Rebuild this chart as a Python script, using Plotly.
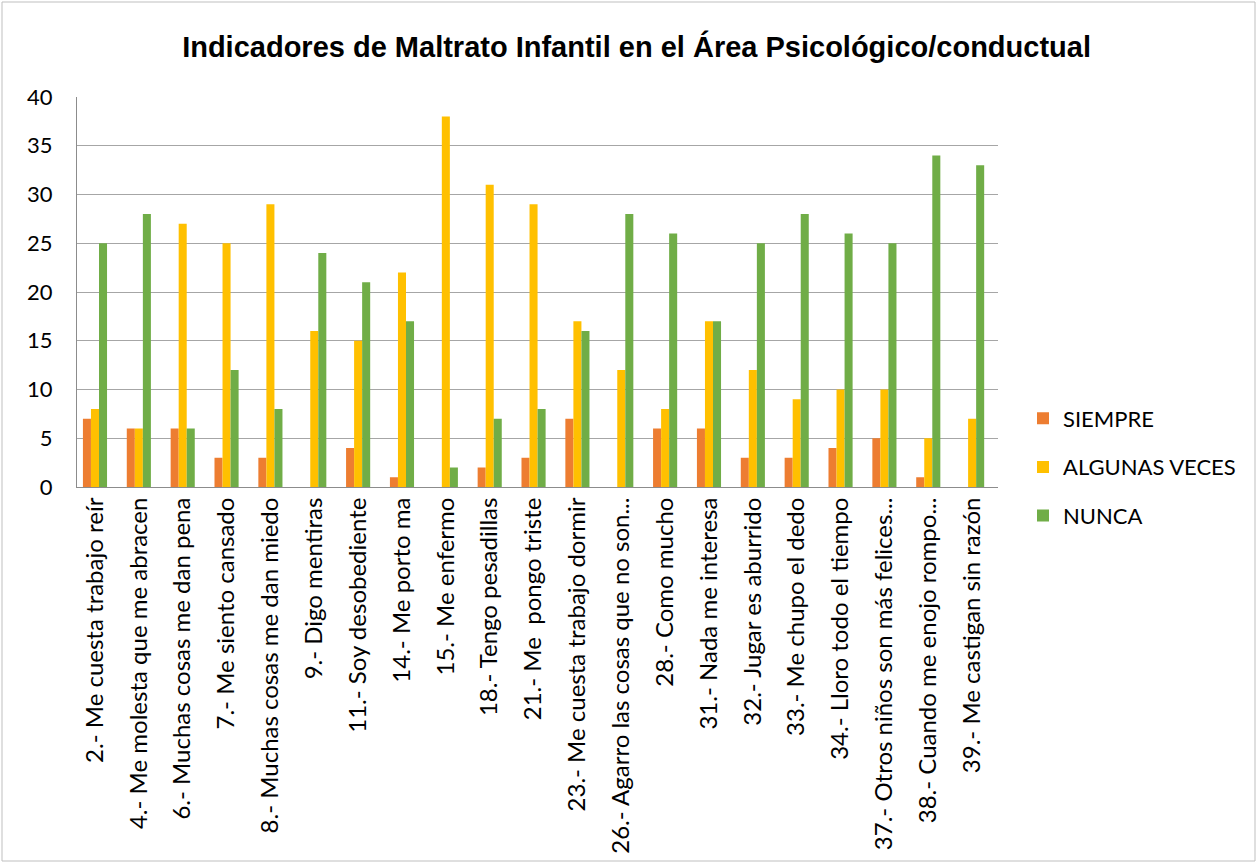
import plotly.graph_objects as go

categories = [
    "2.- Me cuesta trabajo reír",
    "4.- Me molesta que me abracen",
    "6.- Muchas cosas me dan pena",
    "7.- Me siento cansado",
    "8.- Muchas cosas me dan miedo",
    "9.- Digo mentiras",
    "11.- Soy desobediente",
    "14.- Me porto ma",
    "15.- Me enfermo",
    "18.- Tengo pesadillas",
    "21.- Me  pongo triste",
    "23.- Me cuesta trabajo dormir",
    "26.- Agarro las cosas que no son...",
    "28.- Como mucho",
    "31.- Nada me interesa",
    "32.- Jugar es aburrido",
    "33.- Me chupo el dedo",
    "34.- Lloro todo el tiempo",
    "37.- Otros niños son más felices...",
    "38.- Cuando me enojo rompo...",
    "39.- Me castigan sin razón",
]
siempre = [7, 6, 6, 3, 3, 0, 4, 1, 0, 2, 3, 7, 0, 6, 6, 3, 3, 4, 5, 1, 0]
algunas = [8, 6, 27, 25, 29, 16, 15, 22, 38, 31, 29, 17, 12, 8, 17, 12, 9, 10, 10, 5, 7]
nunca = [25, 28, 6, 12, 8, 24, 21, 17, 2, 7, 8, 16, 28, 26, 17, 25, 28, 26, 25, 34, 33]
y_ticks = [0, 5, 10, 15, 20, 25, 30, 35, 40]

series = [("SIEMPRE", siempre, "#ED7D31"),
          ("ALGUNAS VECES", algunas, "#FFC000"),
          ("NUNCA", nunca, "#70AD47")]

fig = go.Figure()
for i, (name, vals, color) in enumerate(series):
    fig.add_trace(go.Bar(x=categories, y=vals, name=name, marker_color=color,
                         marker_line_width=0, legendgroup=str(i)))

W, H = 1258, 863
L, R, T, B = 77, 998, 97, 487
fig.update_layout(
    width=W, height=H,
    margin=dict(l=L, r=W - R, t=T, b=H - B, autoexpand=False),
    paper_bgcolor="white", plot_bgcolor="white",
    barmode="group", bargap=0.45, bargroupgap=0,
    font=dict(family="Lato, Carlito, Calibri, sans-serif", size=22, color="#000000"),
    title=dict(text="<b>Indicadores de Maltrato Infantil en el Área Psicológico/conductual</b>",
               x=0.506, xref="container", xanchor="center", y=1 - 47 / H, yanchor="middle",
               font=dict(family="Liberation Sans, Arial, sans-serif", size=29, color="#000000")),
    legend=dict(x=(1023 - L) / (R - L), y=(B - 467) / (B - T), xanchor="left", yanchor="middle",
                tracegroupgap=17, font=dict(size=22), itemwidth=30,
                bgcolor="rgba(0,0,0,0)"),
    showlegend=True,
)
fig.update_xaxes(tickangle=-90, showgrid=False, showline=True, linecolor="#8c8c8c",
                 linewidth=1, ticks="", tickfont=dict(size=24), range=[-0.41, 20.59])
fig.update_yaxes(range=[0, 40], tickvals=y_ticks, showgrid=True, gridcolor="#a6a6a6",
                 gridwidth=1, showline=True, linecolor="#8c8c8c", linewidth=1,
                 zeroline=False, ticks="", tickfont=dict(size=22), ticklabelstandoff=19)
fig.add_shape(type="rect", xref="paper", yref="paper",
              x0=(2 - L) / (R - L), x1=(1255 - L) / (R - L),
              y0=(B - 861) / (B - T), y1=(B - 2) / (B - T),
              line=dict(color="#bfbfbf", width=1), fillcolor="rgba(0,0,0,0)", layer="below")
fig.write_html("out.html", config={"displayModeBar": False},
               post_script="document.body.style.margin='0';document.body.style.overflow='hidden';")
